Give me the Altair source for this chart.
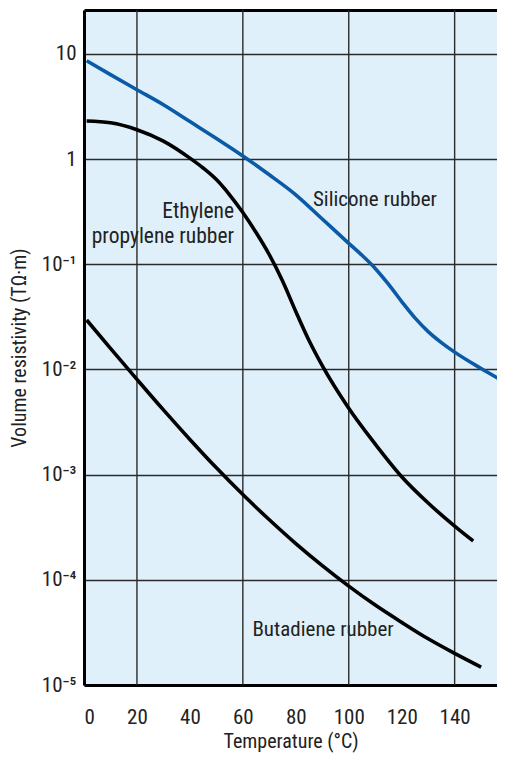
import altair as alt
import pandas as pd

# ---- data ----
sil_T = [1, 10, 20, 30, 40, 50, 60, 70, 80, 90, 100, 105, 110, 115, 120, 125, 130, 135, 140, 150, 157]
sil_v = [8.6, 6.34, 4.56, 3.28, 2.27, 1.57, 1.07, 0.708, 0.457, 0.269, 0.158, 0.1216, 0.0912, 0.0646, 0.0442,
         0.0309, 0.0229, 0.0180, 0.0146, 0.0102, 0.00807]

epr_T = [1, 10, 20, 30, 40, 45, 50, 55, 60, 65, 70, 75, 80, 85, 90, 100, 110, 120, 130, 140, 147]
epr_v = [2.30, 2.21, 1.90, 1.48, 1.02, 0.822, 0.638, 0.457, 0.31, 0.20, 0.123, 0.0692, 0.0355, 0.0188, 0.01084,
         0.00427, 0.00195, 0.000955, 0.000537, 0.000324, 0.000234]

but_T = [1, 10, 20, 30, 40, 50, 60, 70, 80, 90, 100, 110, 120, 130, 140, 150]
but_v = [0.0295, 0.01585, 0.00804, 0.00412, 0.00216, 0.00116, 0.000646, 0.000372, 0.000221, 0.0001365,
         0.0000871, 0.0000575, 0.0000394, 0.0000275, 0.00002, 0.0000148]

series_names = ["Silicone rubber", "Ethylene propylene rubber", "Butadiene rubber"]
series_colors = ["#0a5aa8", "#000000", "#000000"]

x_ticks = [0, 20, 40, 60, 80, 100, 120, 140]
x_grid = [20, 60, 100, 140]
y_ticks = [1e-5, 1e-4, 1e-3, 1e-2, 1e-1, 1, 10]

center_labels = ["Silicone rubber", "Butadiene rubber"]
center_T = [109.9, 90.3]
center_v = [0.41, 0.000033]

right_labels = ["Ethylene", "propylene rubber"]
right_T = [56.7, 56.7]
right_v = [0.317, 0.183]

# ---- tables ----
df = pd.concat([
    pd.DataFrame({"T": sil_T, "v": sil_v, "series": series_names[0]}),
    pd.DataFrame({"T": epr_T, "v": epr_v, "series": series_names[1]}),
    pd.DataFrame({"T": but_T, "v": but_v, "series": series_names[2]}),
])
grid_df = pd.DataFrame({"T": x_grid})
cl_df = pd.DataFrame({"T": center_T, "v": center_v, "label": center_labels})
rl_df = pd.DataFrame({"T": right_T, "v": right_v, "label": right_labels})

FONT = "Liberation Sans Narrow, Roboto Condensed, Arial Narrow, Liberation Sans, sans-serif"
TXT = "#222222"
GRID = "#2a2a2a"

xscale = alt.Scale(domain=[0, 156], nice=False, zero=False)
yscale = alt.Scale(type="log", domain=[1e-5, 26.1], nice=False)

x_axis = alt.Axis(
    values=x_ticks, grid=False, ticks=False, labelFlush=True,
    domainColor="black", domainWidth=3, labelPadding=21,
    labelFont=FONT, labelFontSize=21, labelColor=TXT,
    title="Temperature (°C)", titleFont=FONT, titleFontSize=20,
    titleFontWeight="normal", titleColor=TXT, titlePadding=4,
)
y_axis = alt.Axis(
    values=y_ticks, grid=True, gridColor=GRID, gridWidth=1.4, ticks=False,
    domainColor="black", domainWidth=3, labelPadding=8,
    labelExpr="datum.value >= 1 ? format(datum.value, 'd') : '10⁻' + ['', '¹', '²', '³', '⁴', '⁵'][round(-log(datum.value) / LN10)]",
    labelFont=FONT, labelFontSize=21, labelColor=TXT,
    title="Volume resistivity (TΩ·m)", titleFont=FONT, titleFontSize=20,
    titleFontWeight="normal", titleColor=TXT, titlePadding=12,
)


def ych():
    return alt.Y("v:Q", scale=yscale, axis=y_axis)


vgrid = alt.Chart(grid_df).mark_rule(color=GRID, strokeWidth=1.4).encode(
    x=alt.X("T:Q", scale=xscale,
            axis=alt.Axis(orient="top", labels=False, ticks=False, grid=False,
                          domainColor="black", domainWidth=3, title=None))
)

lines = alt.Chart(df).mark_line(strokeWidth=3.6, interpolate="monotone").encode(
    x=alt.X("T:Q", scale=xscale, axis=x_axis),
    y=ych(),
    color=alt.Color("series:N", scale=alt.Scale(domain=series_names, range=series_colors), legend=None),
)

ctext = alt.Chart(cl_df).mark_text(font=FONT, fontSize=21, color=TXT, align="center", baseline="middle").encode(
    x=alt.X("T:Q", scale=xscale, axis=None),
    y=ych(),
    text="label:N",
)
rtext = alt.Chart(rl_df).mark_text(font=FONT, fontSize=21.5, color=TXT, align="right", baseline="middle").encode(
    x=alt.X("T:Q", scale=xscale, axis=None),
    y=ych(),
    text="label:N",
)

chart = alt.layer(vgrid, lines, ctext, rtext).resolve_axis(x="independent").properties(
    width=413, height=675,
    autosize=alt.AutoSizeParams(type="none"),
    padding={"left": 76, "top": 2, "right": 0, "bottom": 68},
).configure_view(fill="#dff0fa", stroke=None)

chart.save("out.html", embed_options={"renderer": "svg", "actions": False})
